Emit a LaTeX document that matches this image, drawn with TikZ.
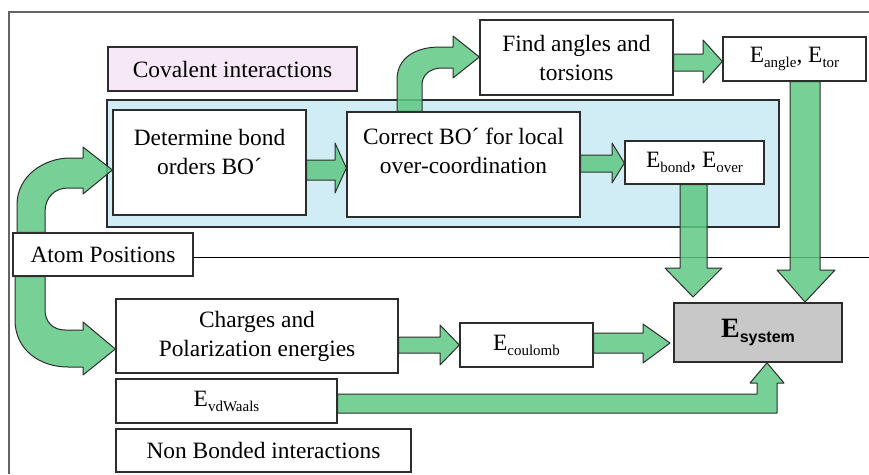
\documentclass[tikz,border=0pt]{standalone}
\usepackage{fontspec}
\setmainfont{Liberation Serif}
\newfontfamily\sysfont{Liberation Sans}
\definecolor{arrowgreen}{RGB}{95,200,130}
\definecolor{covpink}{RGB}{246,232,246}
\definecolor{covblue}{RGB}{208,236,245}
\definecolor{sysgray}{RGB}{200,200,200}
\definecolor{edgec}{RGB}{45,45,45}
\definecolor{framec}{RGB}{100,100,100}
\newcommand\Sb[1]{\raisebox{-5pt}{\fontsize{15}{15}\selectfont #1}}
\newcommand\mybox[7]{\node[#6, minimum width={#4-#2}, minimum height={#5-#3}] (#1) at ({(#2+#4)/2},{(#3+#5)/2}) {#7};}
\tikzset{
  txt/.style={font=\rmfamily\fontsize{23.4}{29}\selectfont, align=center},
  bx/.style={draw=edgec, line width=1.3pt, fill=white, inner sep=0pt, txt},
  blk/.style={draw=edgec, line width=1pt, fill=arrowgreen, fill opacity=0.85, line join=round},
}
\begin{document}
\begin{tikzpicture}[x=1pt,y=-1pt]
\useasboundingbox (0,0) rectangle (869,474);
% frame
\draw[framec, line width=2pt] (869,12) -- (9,12) -- (9,474);
% group backgrounds
\mybox{blue}{107}{100}{779}{227}{bx, fill=covblue}{}
\mybox{cov}{108}{47}{357}{91}{bx, fill=covpink}{Covalent interactions}
% boxes
\mybox{atom}{13}{233}{193}{276}{bx}{Atom Positions}
\draw[black, line width=1pt] (atom.east |- 0,257) -- (869,257);
\mybox{det}{113}{110}{306}{215}{bx}{}
\node[txt] (dettxt) at (209.5,152) {Determine bond\\orders BO´};
\mybox{cor}{347}{112}{580}{217}{bx}{}
\node[txt] (cortxt) at (463.5,151) {Correct BO´ for local\\over-coordination};
\mybox{find}{480}{20}{673}{95}{bx}{Find angles and\\torsions}
\mybox{eang}{723}{37}{866}{81}{bx}{E\Sb{angle}, E\Sb{tor}}
\mybox{ebond}{625}{141}{764}{184}{bx}{E\Sb{bond}, E\Sb{over}}
\mybox{chg}{116}{299}{398}{373}{bx}{Charges and\\Polarization energies}
\mybox{evdw}{116}{379}{337}{423}{bx}{E\Sb{vdWaals}}
\mybox{nonb}{116}{429}{411}{472}{bx}{Non Bonded interactions}
\mybox{ecoul}{460}{323}{593}{367}{bx}{E\Sb{coulomb}}
\mybox{esys}{674}{303}{842}{362}{bx, fill=sysgray, line width=1.6pt}{{\fontsize{28}{30}\selectfont\bfseries E}\raisebox{-5pt}{\sysfont\bfseries\fontsize{16}{16}\selectfont system}}
% block arrows
% atom -> det (curved up)
\draw[blk] (17,0 |- atom.north) -- (17,205) .. controls (17,175) and (45,158) .. (70,158) -- (83,158) -- (83,147)
  -- (det.west |- 0,170) -- (83,194) -- (83,188) -- (68,188) .. controls (55,188) and (45,197) .. (45,212)
  -- (45,0 |- atom.north) -- cycle;
% atom -> chg (curved down)
\draw[blk] (15,0 |- atom.south) -- (15,320) .. controls (15,350) and (40,367) .. (68,367) -- (83,367) -- (83,375)
  -- (chg.west |- 0,349) -- (83,322) -- (83,330) -- (65,330) .. controls (53,330) and (45,322) .. (45,310)
  -- (45,0 |- atom.south) -- cycle;
% det -> cor
\draw[blk] (det.east |- 0,160) -- (335,160) -- (335,143) -- (cor.west |- 0,168) -- (335,193) -- (335,180)
  -- (det.east |- 0,180) -- cycle;
% cor -> ebond
\draw[blk] (cor.east |- 0,155) -- (612,155) -- (612,143) -- (ebond.west |- 0,163) -- (612,183) -- (612,172)
  -- (cor.east |- 0,172) -- cycle;
% cor -> find (curved up)
\draw[blk] (397,0 |- cor.north) -- (397,80) .. controls (397,58) and (415,47) .. (440,47) -- (453,47) -- (453,36)
  -- (find.west |- 0,57) -- (453,78) -- (453,68) -- (442,68) .. controls (430,68) and (422,75) .. (422,85)
  -- (422,0 |- cor.north) -- cycle;
% find -> eang
\draw[blk] (find.east |- 0,54) -- (703,54) -- (703,40) -- (eang.west |- 0,61.5) -- (703,83) -- (703,71)
  -- (find.east |- 0,71) -- cycle;
% ebond -> esys
\coordinate (tipA) at (693,297);
\draw[blk] (680,0 |- ebond.south) -- (680,268) -- (665,268) -- (tipA) -- (722,268) -- (707,268)
  -- (707,0 |- ebond.south) -- cycle;
% eang -> esys
\coordinate (tipB) at (805,302);
\draw[blk] (790,0 |- eang.south) -- (790,270) -- (777,270) -- (tipB) -- (835,270) -- (820,270)
  -- (820,0 |- eang.south) -- cycle;
% chg -> ecoul
\draw[blk] (chg.east |- 0,337) -- (440,337) -- (440,325) -- (ecoul.west |- 0,345) -- (440,365) -- (440,353)
  -- (chg.east |- 0,353) -- cycle;
% ecoul -> esys
\coordinate (tipC) at (670,343);
\draw[blk] (ecoul.east |- 0,333) -- (643,333) -- (643,324) -- (tipC) -- (643,363) -- (643,353)
  -- (ecoul.east |- 0,353) -- cycle;
% evdw -> esys
\draw[blk] (evdw.east |- 0,394) -- (757,394) -- (757,383) -- (750,383) -- (767,0 |- esys.south) -- (784,383)
  -- (777,383) -- (777,413) -- (evdw.east |- 0,413) -- cycle;
\end{tikzpicture}
\end{document}
